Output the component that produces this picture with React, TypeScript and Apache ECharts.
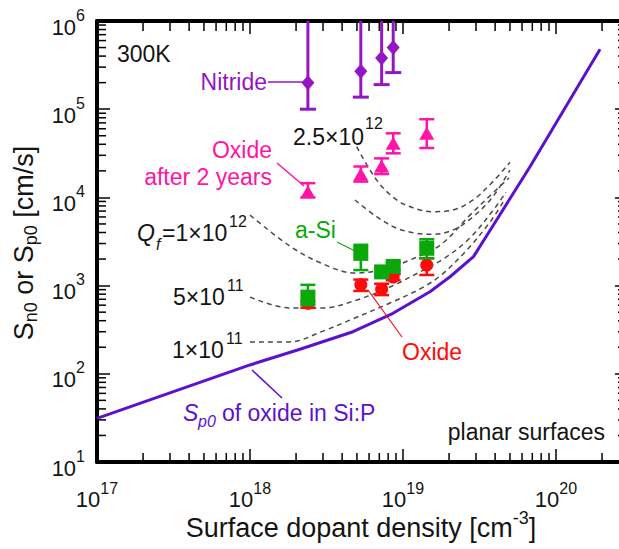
import React, { useEffect, useRef } from 'react';
import * as echarts from 'echarts';

// ---- axis ranges ----
const X_MIN = 1e17;
const X_MAX = 2.7e20;
const Y_MIN = 10;
const Y_MAX = 1e6;
const xDecades = [17, 18, 19, 20];
const yDecades = [1, 2, 3, 4, 5];
const minorMultipliers = [2, 3, 4, 5, 6, 7, 8, 9];

// ---- measured samples (surface dopant density, cm^-3) ----
const sampleN = [2.39e18, 5.3e18, 7.25e18, 8.63e18, 1.43e19];

// Nitride (purple diamonds); upper error bars leave the frame
const nitrideN = [2.39e18, 5.3e18, 7.25e18, 8.63e18];
const nitrideS = [2.0e5, 2.7e5, 3.8e5, 5.0e5];
const nitrideLo = [1.0e5, 1.37e5, 1.9e5, 2.6e5];
const nitrideHi = [3e6, 3e6, 3e6, 3e6];

// Oxide after 2 years (pink triangles)
const oxide2yS = [1.16e4, 1.83e4, 2.27e4, 4.1e4, 5.33e4];
const oxide2yLo = [1.0e4, 1.51e4, 1.84e4, 3.16e4, 3.63e4];
const oxide2yHi = [1.45e4, 2.24e4, 2.77e4, 5.33e4, 7.7e4];

// a-Si (green squares)
const aSiS = [7.4e2, 2.32e3, 1.43e3, 1.65e3, 2.65e3];
const aSiLo = [6.0e2, 1.5e3, 1.3e3, 1.5e3, 2.04e3];
const aSiHi = [1.02e3, 2.9e3, 1.6e3, 1.85e3, 3.35e3];

// Oxide (red circles)
const oxideS = [6.3e2, 1.02e3, 9.1e2, 1.25e3, 1.71e3];
const oxideLo = [5.6e2, 8.7e2, 7.8e2, 1.15e3, 1.32e3];
const oxideHi = [6.6e2, 1.17e3, 1.05e3, 1.35e3, 2.04e3];

// ---- modelled curves ----
// S_p0 of oxide in Si:P (solid violet line)
const sp0N = [1e17, 3.16e17, 1e18, 2.12e18, 4.71e18, 8.6e18, 1.5e19, 2.03e19, 2.89e19, 4.09e19, 6.76e19, 1.94e20];
const sp0S = [31.3, 62.8, 126, 190, 300, 485, 853, 1.26e3, 2.13e3, 5.55e3, 2.23e4, 4.77e5];

// Q_f = 2.5e12
const qf25N = [4.98e18, 6.73e18, 9.1e18, 1.23e19, 1.57e19, 2.12e19, 2.87e19, 3.87e19, 5.0e19];
const qf25S = [3.76e4, 1.57e4, 9.35e3, 7.38e3, 6.89e3, 7.19e3, 9.35e3, 1.51e4, 2.51e4];
// unlabeled intermediate curve
const qf2N = [4.85e18, 6.73e18, 9.1e18, 1.23e19, 1.57e19, 2.12e19, 2.87e19, 3.87e19, 5.0e19];
const qf2S = [9.35e3, 6.04e3, 4.47e3, 3.92e3, 3.82e3, 4.27e3, 6.04e3, 1.02e4, 2.04e4];
// Q_f = 1e12
const qf10N = [1.0e18, 1.82e18, 3.0e18, 4.85e18, 7.62e18, 1.11e19, 1.75e19, 2.74e19, 3.99e19, 4.93e19];
const qf10S = [6.3e3, 2.81e3, 1.76e3, 1.39e3, 1.54e3, 1.95e3, 2.88e3, 6.3e3, 1.18e4, 1.66e4];
// Q_f = 5e11
const qf5N = [1.0e18, 1.82e18, 3.0e18, 5.0e18, 8.22e18, 1.29e19, 1.88e19, 2.74e19, 3.99e19, 4.71e19];
const qf5S = [7.4e2, 5.57e2, 5.57e2, 6.87e2, 9.64e2, 1.43e3, 2.06e3, 3.47e3, 7.6e3, 1.15e4];
// Q_f = 1e11
const qf1N = [1.0e18, 1.82e18, 3.0e18, 4.51e18, 8.22e18, 1.29e19, 1.75e19, 2.54e19, 3.71e19, 4.51e19];
const qf1S = [2.3e2, 2.3e2, 3.05e2, 4.07e2, 6.35e2, 9.15e2, 1.29e3, 2.4e3, 5.26e3, 8.87e3];

// ---- styling ----
const FONT = '"Liberation Sans", Arial, Helvetica, sans-serif';
const TXT = '#141414';
const C_NITRIDE = '#9416c2';
const C_PINK = '#ff14a6';
const C_GREEN = '#0aa80a';
const C_RED = '#ff0a0a';
const C_LINE = '#5c12cc';
const C_DASH = '#4a4a4a';

const pairs = (a: number[], b: number[]) => a.map((v, i) => [v, b[i]]);
const triples = (a: number[], lo: number[], hi: number[]) => a.map((v, i) => [v, lo[i], hi[i]]);

const isDecade = (v: number) => {
  const e = Math.log10(v);
  return Math.abs(e - Math.round(e)) < 1e-6;
};
const tickFmt = (v: number) => (isDecade(v) ? `{b|10}{s|${Math.round(Math.log10(v))}}` : '');

const xMinor: number[] = [];
xDecades.forEach((d) => minorMultipliers.forEach((k) => { const v = k * Math.pow(10, d); if (v < X_MAX) xMinor.push(v); }));
const yMinor: number[] = [];
yDecades.forEach((d) => minorMultipliers.forEach((k) => yMinor.push(k * Math.pow(10, d))));

function errorSeries(name: string, data: number[][], color: string, lw: number, capW: number, z: number) {
  return {
    type: 'custom',
    name,
    data,
    clip: true,
    z,
    silent: true,
    encode: { x: 0, y: [1, 2] },
    renderItem: (_p: any, api: any) => {
      const x = api.value(0);
      const a = api.coord([x, api.value(1)]);
      const b = api.coord([x, api.value(2)]);
      const h = capW / 2;
      const st = { stroke: color, lineWidth: lw };
      return {
        type: 'group',
        children: [
          { type: 'line', shape: { x1: a[0], y1: a[1], x2: b[0], y2: b[1] }, style: st },
          { type: 'line', shape: { x1: a[0] - h, y1: a[1], x2: a[0] + h, y2: a[1] }, style: st },
          { type: 'line', shape: { x1: b[0] - h, y1: b[1], x2: b[0] + h, y2: b[1] }, style: st },
        ],
      };
    },
  };
}

function dashed(name: string, n: number[], s: number[]) {
  return {
    type: 'line',
    name,
    data: pairs(n, s),
    symbol: 'none',
    smooth: 0.35,
    z: 1,
    silent: true,
    lineStyle: { color: C_DASH, width: 1.5, type: [5, 4] },
  };
}

function markers(name: string, data: number[][], symbol: string, size: any, color: string, z: number) {
  return {
    type: 'scatter', name, data, symbol, symbolSize: size, z, silent: true,
    itemStyle: { color, opacity: 1 },
  };
}

const tickRichX = {
  b: { fontSize: 22, fontFamily: FONT, color: TXT, padding: [12, 0, 0, 0] },
  s: { fontSize: 16, fontFamily: FONT, color: TXT, padding: [0, 0, 10, 0] },
};
const tickRichY = {
  b: { fontSize: 22, fontFamily: FONT, color: TXT, padding: [12, 0, 0, 0] },
  s: { fontSize: 16, fontFamily: FONT, color: TXT, padding: [0, 0, 12, 0] },
};

function txt(text: string, x: number, y: number, color: string, opts: any = {}) {
  return {
    type: 'text',
    x,
    y,
    z: 20,
    silent: true,
    style: {
      text,
      fill: color,
      fontSize: opts.size || 23,
      fontFamily: FONT,
      fontStyle: opts.italic ? 'italic' : 'normal',
      align: opts.align || 'left',
      textAlign: opts.align || 'left',
      verticalAlign: 'middle',
      textVerticalAlign: 'middle',
    },
  };
}
function seg(x1: number, y1: number, x2: number, y2: number, color: string, w: number) {
  return { type: 'line', z: 20, silent: true, shape: { x1, y1, x2, y2 }, style: { stroke: color, lineWidth: w } };
}

const axisLineStyle = { color: '#000', width: 4 };

const option: any = {
  animation: false,
  backgroundColor: '#fff',
  grid: { left: 97, top: 21, width: 525, height: 441, containLabel: false, outerBoundsMode: 'none' },
  xAxis: [
    {
      type: 'log', logBase: 10, min: X_MIN, max: X_MAX, position: 'bottom',
      axisLine: { show: true, onZero: false, lineStyle: axisLineStyle },
      axisTick: { show: true, inside: true, length: 13, lineStyle: { color: '#000', width: 1.5 } },
      splitLine: { show: false },
      axisLabel: { margin: 14, formatter: tickFmt, rich: tickRichX, color: TXT, showMaxLabel: false },
    },
    {
      type: 'log', logBase: 10, min: X_MIN, max: X_MAX, position: 'top',
      axisLine: { show: true, onZero: false, lineStyle: axisLineStyle },
      axisTick: { show: true, inside: true, length: 13, lineStyle: { color: '#000', width: 1.5 } },
      splitLine: { show: false },
      axisLabel: { show: false },
    },
  ],
  yAxis: [
    {
      type: 'log', logBase: 10, min: Y_MIN, max: Y_MAX, position: 'left',
      axisLine: { show: true, onZero: false, lineStyle: axisLineStyle },
      axisTick: { show: true, inside: true, length: 13, lineStyle: { color: '#000', width: 1.5 } },
      splitLine: { show: false },
      axisLabel: { margin: 12, formatter: tickFmt, rich: tickRichY, color: TXT },
    },
    {
      type: 'log', logBase: 10, min: Y_MIN, max: Y_MAX, position: 'right',
      axisLine: { show: true, onZero: false, lineStyle: axisLineStyle },
      axisTick: { show: true, inside: true, length: 7, lineStyle: { color: '#000', width: 1.5 } },
      splitLine: { show: false },
      axisLabel: { show: false },
    },
  ],
  series: [
    // minor ticks on the four sides of the frame
    {
      type: 'custom', silent: true, clip: false, z: 6,
      data: xMinor.map((v) => [v, Y_MIN]),
      renderItem: (_p: any, api: any) => {
        const v = api.value(0);
        const b = api.coord([v, Y_MIN]);
        const t = api.coord([v, Y_MAX]);
        const st = { stroke: '#000', lineWidth: 1.5 };
        return {
          type: 'group',
          children: [
            { type: 'line', shape: { x1: b[0], y1: b[1], x2: b[0], y2: b[1] - 9 }, style: st },
            { type: 'line', shape: { x1: t[0], y1: t[1], x2: t[0], y2: t[1] + 10 }, style: st },
          ],
        };
      },
    },
    {
      type: 'custom', silent: true, clip: false, z: 6,
      data: yMinor.map((v) => [X_MIN, v]),
      renderItem: (_p: any, api: any) => {
        const v = api.value(1);
        const l = api.coord([X_MIN, v]);
        const r = api.coord([X_MAX, v]);
        const st = { stroke: '#000', lineWidth: 1.5 };
        return {
          type: 'group',
          children: [
            { type: 'line', shape: { x1: l[0], y1: l[1], x2: l[0] + 9, y2: l[1] }, style: st },
            { type: 'line', shape: { x1: r[0], y1: r[1], x2: r[0] - 4, y2: r[1] }, style: st },
          ],
        };
      },
    },
    dashed('Qf=2.5e12', qf25N, qf25S),
    dashed('Qf intermediate', qf2N, qf2S),
    dashed('Qf=1e12', qf10N, qf10S),
    dashed('Qf=5e11', qf5N, qf5S),
    dashed('Qf=1e11', qf1N, qf1S),
    {
      type: 'line', name: 'Sp0 of oxide in Si:P', data: pairs(sp0N, sp0S), symbol: 'none', z: 2, silent: true,
      lineStyle: { color: C_LINE, width: 3 },
    },
    errorSeries('Nitride error', triples(nitrideN, nitrideLo, nitrideHi), C_NITRIDE, 3, 16, 3),
    markers('Nitride', pairs(nitrideN, nitrideS), 'diamond', [13, 15], C_NITRIDE, 4),
    errorSeries('Oxide after 2 years error', triples(sampleN, oxide2yLo, oxide2yHi), C_PINK, 2.5, 15, 3),
    markers('Oxide after 2 years', pairs(sampleN, oxide2yS), 'triangle', [15, 13], C_PINK, 4),
    errorSeries('Oxide error', triples(sampleN, oxideLo, oxideHi), C_RED, 2.5, 15, 3),
    markers('Oxide', pairs(sampleN, oxideS), 'circle', 13, C_RED, 4),
    errorSeries('a-Si error', triples(sampleN, aSiLo, aSiHi), C_GREEN, 2.5, 15, 5),
    markers('a-Si', pairs(sampleN, aSiS), 'rect', 15, C_GREEN, 5),
  ],
  graphic: [
    txt('300K', 117, 54, TXT),
    txt('Nitride', 267, 82, C_NITRIDE, { align: 'right' }),
    seg(268, 82, 306, 82, C_NITRIDE, 1.5),
    txt('2.5×10', 293, 137, TXT),
    txt('12', 365, 123, TXT, { size: 16 }),
    txt('Oxide', 272, 150, C_PINK, { align: 'right' }),
    txt('after 2 years', 272, 177, C_PINK, { align: 'right' }),
    seg(277, 163, 304, 186, C_PINK, 1.5),
    txt('Q', 137, 233, TXT, { italic: true }),
    txt('f', 156, 244, TXT, { italic: true, size: 16 }),
    txt('=1×10', 162, 233, TXT),
    txt('12', 229, 221, TXT, { size: 16 }),
    txt('a-Si', 295, 230, C_GREEN),
    seg(337, 242, 355, 251, C_GREEN, 1.2),
    txt('5×10', 173, 297, TXT),
    txt('11', 227, 285, TXT, { size: 16 }),
    txt('1×10', 172, 350, TXT),
    txt('11', 226, 338, TXT, { size: 16 }),
    txt('Oxide', 402, 352, C_RED),
    seg(368, 290, 402, 337, C_RED, 1.2),
    txt('S', 183, 413, C_LINE, { italic: true }),
    txt('p0', 198, 421, C_LINE, { italic: true, size: 16 }),
    txt('of oxide in Si:P', 222, 413, C_LINE),
    seg(252, 370, 282, 398, C_LINE, 1.5),
    txt('planar surfaces', 605, 432, TXT, { align: 'right' }),
    {
      type: 'text', x: 361, y: 518, z: 20, silent: true,
      style: {
        text: '{b|Surface dopant density [cm}{s|-3}{b|]}',
        align: 'center', textAlign: 'center', verticalAlign: 'middle', textVerticalAlign: 'middle',
        rich: {
          b: { fontSize: 27, fontFamily: FONT, fill: TXT, color: TXT, padding: [20, 0, 0, 0] },
          s: { fontSize: 18, fontFamily: FONT, fill: TXT, color: TXT },
        },
      },
    },
    {
      type: 'text', x: 31, y: 243, rotation: Math.PI / 2, z: 20, silent: true,
      style: {
        text: '{b|S}{u|n0}{b| or S}{u|p0}{b| [cm/s]}',
        align: 'center', textAlign: 'center', verticalAlign: 'middle', textVerticalAlign: 'middle',
        rich: {
          b: { fontSize: 27, fontFamily: FONT, fill: TXT, color: TXT, padding: [0, 0, 14, 0] },
          u: { fontSize: 18, fontFamily: FONT, fill: TXT, color: TXT },
        },
      },
    },
  ],
};

export default function App() {
  const ref = useRef<HTMLDivElement>(null);
  useEffect(() => {
    const chart = echarts.init(ref.current as HTMLDivElement, undefined, { renderer: 'svg' });
    chart.setOption(option);
    return () => chart.dispose();
  }, []);
  return (
    <div
      ref={ref}
      style={{ position: 'fixed', left: 0, top: 0, width: 619, height: 549, background: '#fff' }}
    />
  );
}
